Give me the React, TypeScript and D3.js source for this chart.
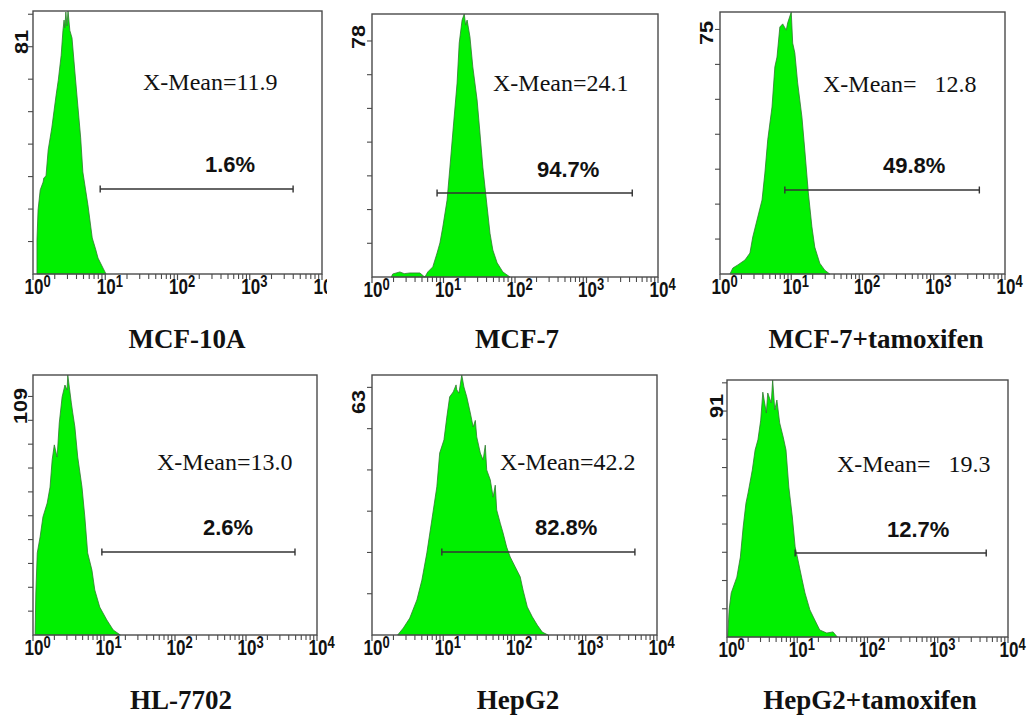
import React from 'react';
import * as d3 from 'd3';

// ---- Data (x in log10 decades of fluorescence, y in cell counts) ----
const categories = ["MCF-10A", "MCF-7", "MCF-7+tamoxifen", "HL-7702", "HepG2", "HepG2+tamoxifen"];
const yMaxCounts = [81, 78, 75, 109, 63, 91];
const xMeanLabels = ["X-Mean=11.9", "X-Mean=24.1", "X-Mean=   12.8", "X-Mean=13.0", "X-Mean=42.2", "X-Mean=   19.3"];
const gatePercents = ["1.6%", "94.7%", "49.8%", "2.6%", "82.8%", "12.7%"];
const gateRanges: [number, number][] = [[0.93, 3.6], [0.91, 3.64], [0.91, 3.64], [0.97, 3.69], [0.98, 3.69], [0.97, 3.69]];
const decadeTicks = [0, 1, 2, 3, 4];
const decadeExponents = ["0", "1", "2", "3", "4"];

const mcf10a: [number, number][] = [
  [0.055, 0], [0.055, 10.5], [0.07, 19.7], [0.1, 25.9], [0.14, 28.3], [0.15, 29.6], [0.18, 30.2],
  [0.21, 38.2], [0.26, 45], [0.32, 55.1], [0.35, 59.7], [0.39, 67.4], [0.415, 75.1], [0.43, 78.2],
  [0.44, 75.8], [0.455, 80.7], [0.47, 76.4], [0.485, 81], [0.51, 75], [0.54, 72.7], [0.58, 62.2],
  [0.62, 52], [0.66, 41.9], [0.69, 31.4], [0.76, 21.3], [0.82, 11.1], [0.87, 7.4], [0.9, 4.9],
  [0.97, 1.8], [1.01, 0],
];
const mcf7: [number, number][] = [
  [0.27, 0], [0.29, 0.9], [0.39, 1.5], [0.45, 1.0], [0.53, 1.2], [0.67, 1.2], [0.72, 0.3],
  [0.74, 0], [0.78, 1.5], [0.85, 3], [0.91, 7.1], [0.95, 10.1], [0.99, 14.8], [1.05, 22.8],
  [1.09, 32.6], [1.13, 42.7], [1.19, 57.5], [1.22, 69.4], [1.26, 76.2], [1.29, 78], [1.31, 74.7],
  [1.33, 76.2], [1.37, 71.2], [1.41, 62.3], [1.47, 52.5], [1.51, 42.7], [1.55, 32.6], [1.61, 20.8],
  [1.65, 13], [1.69, 8], [1.75, 4.2], [1.83, 1.5], [1.93, 0],
];
const mcf7Tam: [number, number][] = [
  [0.14, 0], [0.18, 1.7], [0.25, 2.6], [0.35, 4], [0.42, 6], [0.46, 10.6], [0.53, 16.3],
  [0.59, 21.2], [0.63, 28.9], [0.67, 38.4], [0.73, 47.8], [0.77, 59.3], [0.8, 62.1], [0.84, 70.7],
  [0.88, 71.6], [0.93, 69.8], [0.95, 71.9], [1.0, 75], [1.02, 66.1], [1.05, 63.3], [1.09, 54.7],
  [1.15, 44.9], [1.19, 35.5], [1.24, 23.2], [1.29, 13.5], [1.33, 7.7], [1.4, 3.1], [1.47, 1.1],
  [1.54, 0],
];
const hl7702: [number, number][] = [
  [0.03, 0], [0.03, 0.8], [0.04, 17.6], [0.06, 34.4], [0.1, 41.1], [0.14, 49.5], [0.2, 55.3],
  [0.24, 62], [0.27, 73.4], [0.3, 79.7], [0.34, 74.6], [0.37, 88.9], [0.41, 99.8], [0.45, 104.8],
  [0.48, 102.7], [0.49, 109], [0.54, 97.3], [0.56, 93.1], [0.59, 87.2], [0.63, 74.6], [0.69, 62],
  [0.73, 49.5], [0.77, 34.4], [0.83, 27.2], [0.87, 18.9], [0.94, 11.7], [1.04, 6.3], [1.13, 2.1],
  [1.23, 0],
];
const hepg2: [number, number][] = [
  [0.36, 0], [0.44, 1.7], [0.53, 4.1], [0.63, 8.5], [0.7, 13.3], [0.77, 19.9], [0.84, 27.9],
  [0.91, 35.9], [0.95, 44.1], [1.01, 47.3], [1.05, 52.8], [1.09, 57.7], [1.14, 58.9], [1.18, 60.6],
  [1.19, 59.4], [1.22, 58.6], [1.26, 63], [1.29, 60.1], [1.33, 57.7], [1.38, 53.8], [1.42, 50.4],
  [1.45, 52], [1.47, 48], [1.52, 44.1], [1.56, 42.4], [1.59, 46], [1.61, 40], [1.66, 37.6],
  [1.7, 33.4], [1.73, 36.3], [1.75, 30.3], [1.8, 27.1], [1.84, 24.7], [1.89, 21.3], [1.94, 18.9],
  [2.01, 16.5], [2.08, 14.1], [2.12, 10.9], [2.18, 6.8], [2.25, 4.4], [2.32, 2.4], [2.39, 0.7],
  [2.47, 0],
];
const hepg2Tam: [number, number][] = [
  [0.01, 0], [0.03, 9.6], [0.06, 15.6], [0.09, 17.7], [0.14, 21.2], [0.19, 28.3], [0.23, 38.9],
  [0.27, 47.4], [0.3, 51], [0.36, 59.1], [0.4, 66.2], [0.44, 69.8], [0.48, 76.8], [0.51, 86.7],
  [0.56, 79.3], [0.58, 86.4], [0.63, 82.9], [0.65, 91], [0.68, 80.4], [0.71, 83.9], [0.75, 75.8],
  [0.8, 70.8], [0.84, 66.2], [0.88, 53.1], [0.93, 42.5], [0.97, 31.9], [1.01, 27.3], [1.07, 20.2],
  [1.11, 15.6], [1.18, 9.6], [1.25, 6], [1.32, 2.5], [1.42, 1.4], [1.51, 1.8], [1.57, 0],
];
const histograms = [mcf10a, mcf7, mcf7Tam, hl7702, hepg2, hepg2Tam];

// ---- Layout (pixels) ----
const layout = [
  { x: 33, y: 11, w: 289, h: 263, clip: 327, yl: [28, 42], xm: [143, 90], pc: [205, 172], gy: 189, tx: 187, ty: 348 },
  { x: 372, y: 14, w: 286, h: 263, clip: 0, yl: [365, 37], xm: [493, 91], pc: [537, 177], gy: 193, tx: 517, ty: 348 },
  { x: 720, y: 12, w: 285, h: 262, clip: 0, yl: [713, 33], xm: [823, 92], pc: [883, 173], gy: 190, tx: 876, ty: 348 },
  { x: 33, y: 375, w: 284, h: 260, clip: 0, yl: [27, 406], xm: [157, 470], pc: [203, 535], gy: 552, tx: 181, ty: 709 },
  { x: 372, y: 375, w: 285, h: 260, clip: 0, yl: [365, 402], xm: [500, 470], pc: [535, 535], gy: 552, tx: 518, ty: 709 },
  { x: 727, y: 380, w: 281, h: 257, clip: 0, yl: [723, 406], xm: [837, 472], pc: [887, 537], gy: 553, tx: 870, ty: 709 },
];

const SERIF = '"Liberation Serif", "Times New Roman", serif';
const SANS = '"Liberation Sans", Arial, sans-serif';
const FRAME = '#4a4a4a';

function Panel({ i }: { i: number }) {
  const L = layout[i];
  const x = d3.scaleLinear().domain([0, 4]).range([L.x, L.x + L.w]);
  const y = d3.scaleLinear().domain([0, yMaxCounts[i]]).range([L.y + L.h, L.y]);
  const area = d3.area<[number, number]>()
    .x(d => x(d[0]))
    .y0(y(0))
    .y1(d => y(d[1]))
    .curve(d3.curveLinear);
  const minor: number[] = [];
  for (let dd = 0; dd < 4; dd++) for (let k = 2; k <= 9; k++) minor.push(dd + Math.log10(k));
  const yTicks = d3.range(10, yMaxCounts[i], 10);
  const base = y(0);
  const [g0, g1] = gateRanges[i];
  const clipId = `clip${i}`;
  return (
    <g clipPath={L.clip ? `url(#${clipId})` : undefined}>
      {L.clip ? (
        <defs>
          <clipPath id={clipId}>
            <rect x={0} y={0} width={L.clip} height={718} />
          </clipPath>
        </defs>
      ) : null}
      <path d={area(histograms[i]) || ''} fill="#00f000" stroke="#2f7a2f" strokeWidth={0.8} />
      <rect x={L.x} y={L.y} width={L.w} height={L.h} fill="none" stroke={FRAME} strokeWidth={1.4} />
      {minor.map((m, k) => (
        <line key={'m' + k} x1={x(m)} x2={x(m)} y1={base} y2={base + 5} stroke={FRAME} strokeWidth={1.1} />
      ))}
      {decadeTicks.map((t, k) => (
        <line key={'M' + k} x1={x(t)} x2={x(t)} y1={base} y2={base + 6} stroke={FRAME} strokeWidth={1.2} />
      ))}
      {yTicks.map((t, k) => (
        <line key={'y' + k} x1={L.x - 5} x2={L.x} y1={y(t)} y2={y(t)} stroke={FRAME} strokeWidth={1.1} />
      ))}
      {decadeTicks.map((t, k) => (
        <g key={'l' + k} transform={`translate(${x(t) + 1},${base + 20}) scale(1,1.25)`}>
          <text x={-9.5} y={0} fontFamily={SANS} fontWeight="bold" fontSize={17} fill="#111">
            10<tspan fontSize={13} dy={-6}>{decadeExponents[k]}</tspan>
          </text>
        </g>
      ))}
      <text
        transform={`translate(${L.yl[0]},${L.yl[1]}) rotate(-90) scale(1.2,1)`}
        textAnchor="middle" fontFamily={SANS} fontWeight="bold" fontSize={18} fill="#111"
      >{yMaxCounts[i]}</text>
      <text x={L.xm[0]} y={L.xm[1]} fontFamily={SERIF} fontSize={24} fill="#111" style={{ whiteSpace: 'pre' }}>
        {xMeanLabels[i]}
      </text>
      <text x={L.pc[0]} y={L.pc[1]} fontFamily={SANS} fontWeight="bold" fontSize={22} fill="#111">
        {gatePercents[i]}
      </text>
      <line x1={x(g0)} x2={x(g1)} y1={L.gy} y2={L.gy} stroke="#333" strokeWidth={1.4} />
      <line x1={x(g0)} x2={x(g0)} y1={L.gy - 3.5} y2={L.gy + 3.5} stroke="#333" strokeWidth={1.4} />
      <line x1={x(g1)} x2={x(g1)} y1={L.gy - 3.5} y2={L.gy + 3.5} stroke="#333" strokeWidth={1.4} />
      <text x={L.tx} y={L.ty} textAnchor="middle" fontFamily={SERIF} fontWeight="bold" fontSize={27} fill="#111">
        {categories[i]}
      </text>
    </g>
  );
}

export default function App() {
  return (
    <svg width={1035} height={718} viewBox="0 0 1035 718"
      style={{ position: 'absolute', left: 0, top: 0, background: '#fff', display: 'block' }}>
      <rect x={0} y={0} width={1035} height={718} fill="#fff" />
      {categories.map((_, i) => <Panel key={i} i={i} />)}
    </svg>
  );
}
